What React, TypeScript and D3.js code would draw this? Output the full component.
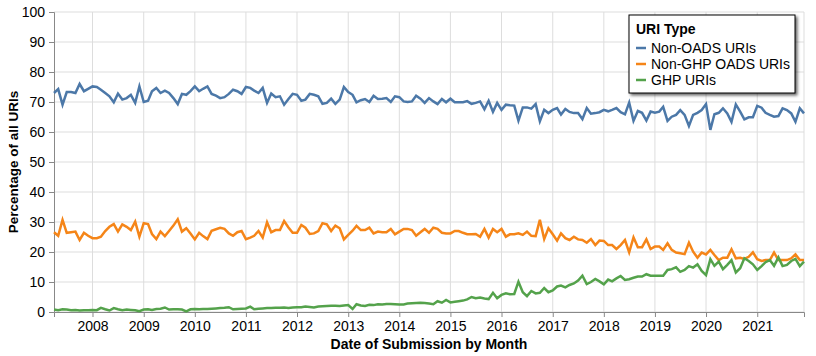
import React, { useEffect, useRef } from 'react';
import * as d3 from 'd3';

// monthly shares, first month April 2007, last December 2021
const firstMonth = new Date(2007, 3, 1);

const nonOads = [
  73, 74.3, 69.1, 73.3, 73.3, 73, 76, 73.6, 74.4, 75.2, 75, 74.1, 73, 71.9, 69.9, 72.8, 70.8, 71.3, 72.4, 69.7,
  75.2, 70, 70.4, 73.6, 74.7, 73, 73.8, 73, 71.3, 69.3, 72.7, 72.4, 73.6, 75.2, 73.6, 74.4, 75.2, 72.7, 72.1, 71.3,
  71.6, 72.7, 74.1, 73.6, 72.7, 75, 74.7, 73.8, 73, 74.7, 69.7, 72.8, 71.6, 71.9, 69.1, 71, 72.7, 72.4, 70.4, 70.8,
  72.7, 72.4, 71.9, 69.4, 69.7, 71.1, 69.4, 70.8, 75, 73.3, 72.4, 69.9, 70.6, 71, 70, 72.1, 71, 71.1, 71.3, 70,
  71.9, 71.6, 70.2, 70, 70.2, 72.1, 71.1, 69.7, 71.3, 70.2, 69.3, 71, 69.9, 71.1, 69.9, 69.9, 69.9, 70.3, 69.4, 69.7,
  70.2, 67.6, 70.4, 66.7, 69.7, 67.4, 69.1, 68.9, 68.8, 63.8, 68.2, 68.2, 67.8, 69.3, 63.6, 67.4, 66.3, 67.4, 68, 65.8,
  67.7, 66.7, 66.3, 66.3, 64.3, 68, 66.1, 66.3, 66.6, 67.4, 66.9, 67.4, 68, 66.6, 65.9, 69.8, 63.7, 67, 66.4, 63.8,
  66.8, 66.4, 66.8, 68.4, 63.7, 65.1, 65.7, 67.3, 65.7, 62, 65.7, 66.4, 67.3, 69.3, 60.7, 65.9, 66.4, 67.9, 66.2, 63.4,
  69.2, 66.8, 64.2, 64.9, 64.9, 68.7, 68.1, 66.4, 65.7, 65.1, 65.3, 67.9, 67.3, 66.2, 63.4, 67.9, 66.2
];

const nonGhpOads = [
  26.6, 25.4, 30.7, 26.4, 26.6, 26.8, 24, 26.4, 25.4, 24.6, 24.6, 25.1, 27, 28.4, 29.3, 26.8, 29.2, 28.4, 27.3, 30.1,
  25.1, 29.6, 29.3, 26, 24.3, 26.8, 25.3, 27, 28.8, 30.9, 26.8, 27.9, 26.2, 24.2, 26.4, 25.3, 24.3, 27.1, 27.6, 28.1,
  27.7, 26.2, 25.4, 26.6, 27, 24.3, 24.8, 25.4, 27, 24.8, 29.9, 26.6, 27.3, 27.3, 30.3, 28.2, 26.4, 26.4, 29, 28.1,
  26, 26.2, 27, 29.6, 29.2, 27, 28.8, 27.9, 24.2, 25.7, 27.1, 28.7, 27.3, 27.3, 28.1, 26.2, 26.8, 26.6, 26.6, 27.7,
  25.9, 26.8, 27.7, 27.7, 27.3, 25.4, 26.6, 27.7, 26.4, 28.1, 27.7, 26.4, 26.2, 26.2, 27, 27, 26.4, 25.9, 25.9, 26,
  25.1, 27.7, 24.8, 27.7, 26.6, 27.7, 25.1, 25.9, 25.9, 26.2, 25.7, 26.8, 25.4, 25.3, 30.7, 24.3, 27.9, 25.9, 23.8, 26.2,
  24.6, 24, 25.1, 24.2, 24, 23.1, 24.3, 22.3, 23.8, 23.7, 22.3, 22.3, 21, 22.3, 24, 19.9, 24.9, 21.6, 21.6, 24.2,
  21, 21.8, 21.8, 20.7, 22.9, 20.7, 19.8, 19.6, 19.3, 23.1, 20.1, 18.1, 19.8, 19.2, 20.7, 19, 17.3, 18.1, 18.1, 20.9,
  17.9, 18.1, 17.7, 18.4, 19.9, 17.6, 17, 17.3, 17.3, 19.8, 17.3, 17.3, 17.3, 17.9, 19.2, 17.3, 17.3
];

const ghp = [
  0.8, 0.6, 0.9, 0.8, 0.6, 0.7, 0.5, 0.6, 0.6, 0.7, 0.6, 1.4, 0.9, 0.5, 1.3, 0.9, 0.6, 0.8, 0.7, 0.6,
  0.3, 0.8, 0.9, 0.7, 1.0, 1.1, 1.5, 0.8, 0.9, 0.9, 0.8, 0.2, 0.9, 1.0, 0.9, 1.0, 1.0, 1.1, 1.2, 1.3,
  1.4, 1.6, 0.9, 1.0, 1.1, 1.2, 1.8, 0.9, 1.1, 1.2, 1.3, 1.3, 1.4, 1.4, 1.5, 1.3, 1.5, 1.6, 1.6, 1.8,
  1.7, 1.5, 1.8, 1.9, 2.0, 2.1, 2.1, 2.0, 2.2, 2.3, 1.0, 2.6, 2.2, 2.0, 2.4, 2.3, 2.6, 2.5, 2.7, 2.7,
  2.6, 2.5, 2.5, 2.8, 2.9, 3.0, 3.1, 3.0, 2.8, 2.6, 3.6, 3.1, 4.0, 3.2, 3.4, 3.6, 3.8, 4.2, 5.0, 4.6,
  4.8, 4.5, 4.3, 6.4, 4.6, 5.7, 6.2, 5.9, 6.0, 10.1, 6.6, 5.3, 7.0, 6.2, 6.4, 8.0, 6.6, 7.2, 8.5, 8.8,
  8.2, 9.0, 9.5, 10.5, 12.1, 9.3, 10.0, 11.0, 10.2, 9.2, 10.8, 10.2, 11.2, 12, 10.7, 10.9, 11.4, 11.8, 11.8, 12.6,
  12.1, 12.1, 12.1, 12.1, 14, 14.3, 14.9, 13.4, 14, 15.3, 14.8, 15.9, 13.7, 12.3, 17.6, 15.4, 16.8, 14.3, 15.7, 17.3,
  13.2, 14.6, 17.9, 17, 15.9, 14, 15.3, 16.6, 17.3, 15.4, 18.2, 15.3, 15.7, 17, 17.7, 15.3, 16.8
];

const seriesNames = ['Non-OADS URIs', 'Non-GHP OADS URIs', 'GHP URIs'];
const seriesColors = ['#4c78a8', '#f58518', '#54a24b'];
const yTicks = [0, 10, 20, 30, 40, 50, 60, 70, 80, 90, 100];

const W = 816, H = 356;
const font = "'Liberation Sans', Arial, Helvetica, sans-serif";

const App = () => {
  const ref = useRef<SVGSVGElement>(null);

  useEffect(() => {
    const svg = d3.select(ref.current);
    svg.selectAll('*').remove();

    const all = [nonOads, nonGhpOads, ghp];
    const months = nonOads.map((_, i) => d3.timeMonth.offset(firstMonth, i));

    const x = d3.scaleTime().domain([months[0], months[months.length - 1]]).range([54, 804]);
    const y = d3.scaleLinear().domain([0, 100]).range([312, 12]);

    const defs = svg.append('defs');
    const f = defs.append('filter').attr('id', 'shadow').attr('x', '-10%').attr('y', '-10%')
      .attr('width', '130%').attr('height', '130%');
    f.append('feDropShadow').attr('dx', 2).attr('dy', 2).attr('stdDeviation', 1.5)
      .attr('flood-color', '#000').attr('flood-opacity', 0.6);

    // grid
    const yearTicks = x.ticks(d3.timeYear.every(1)).filter(d => d > months[0]);
    svg.append('g').selectAll('line').data(yTicks).enter().append('line')
      .attr('x1', 54).attr('x2', 804)
      .attr('y1', d => y(d)).attr('y2', d => y(d))
      .attr('stroke', '#ddd').attr('stroke-width', 1);
    svg.append('g').selectAll('line').data(yearTicks).enter().append('line')
      .attr('x1', d => x(d)).attr('x2', d => x(d))
      .attr('y1', 12).attr('y2', 312)
      .attr('stroke', '#ddd').attr('stroke-width', 1);
    svg.append('line').attr('x1', 804).attr('x2', 804).attr('y1', 12).attr('y2', 312)
      .attr('stroke', '#ddd');

    // axes
    const xAxis = d3.axisBottom(x).tickValues(yearTicks).tickFormat(d3.timeFormat('%Y') as any)
      .tickSize(5).tickPadding(4);
    const gx = svg.append('g').attr('transform', 'translate(0,312)').call(xAxis);
    gx.select('.domain').attr('stroke', '#888');
    gx.selectAll('.tick line').attr('stroke', '#888');
    gx.selectAll('text').attr('font-family', font).attr('font-size', 14).attr('fill', '#000');

    const yAxis = d3.axisLeft(y).tickValues(yTicks).tickSize(5).tickPadding(4);
    const gy = svg.append('g').attr('transform', 'translate(54,0)').call(yAxis);
    gy.select('.domain').attr('stroke', '#888');
    gy.selectAll('.tick line').attr('stroke', '#888');
    gy.selectAll('text').attr('font-family', font).attr('font-size', 14).attr('fill', '#000');

    // lines
    const line = d3.line<number>().x((_, i) => x(months[i])).y(d => y(d));
    all.forEach((s, k) => {
      svg.append('path').datum(s).attr('d', line)
        .attr('fill', 'none').attr('stroke', seriesColors[k]).attr('stroke-width', 2.5)
        .attr('stroke-linejoin', 'miter');
    });

    // titles
    svg.append('text').text('Date of Submission by Month')
      .attr('x', 429).attr('y', 349).attr('text-anchor', 'middle')
      .attr('font-family', font).attr('font-size', 14).attr('font-weight', 'bold');
    svg.append('text').text('Percentage of all URIs')
      .attr('transform', 'translate(18,162) rotate(-90)').attr('text-anchor', 'middle')
      .attr('font-family', font).attr('font-size', 13.5).attr('font-weight', 'bold');

    // legend
    const lg = svg.append('g').attr('transform', 'translate(629,15)');
    lg.append('rect').attr('width', 166).attr('height', 78)
      .attr('fill', '#fff').attr('stroke', '#000').attr('stroke-width', 1)
      .attr('filter', 'url(#shadow)');
    lg.append('text').text('URI Type').attr('x', 7).attr('y', 19)
      .attr('font-family', font).attr('font-size', 14).attr('font-weight', 'bold');
    seriesNames.forEach((n, k) => {
      const yy = 33 + k * 16;
      lg.append('line').attr('x1', 7).attr('x2', 17).attr('y1', yy).attr('y2', yy)
        .attr('stroke', seriesColors[k]).attr('stroke-width', 2.5);
      lg.append('text').text(n).attr('x', 22).attr('y', yy + 5)
        .attr('font-family', font).attr('font-size', 14);
    });
  }, []);

  return (
    <div style={{ position: 'absolute', left: 0, top: 0 }}>
      <svg ref={ref} width={W} height={H} style={{ display: 'block', background: '#fff' }}></svg>
    </div>
  );
};

export default App;
